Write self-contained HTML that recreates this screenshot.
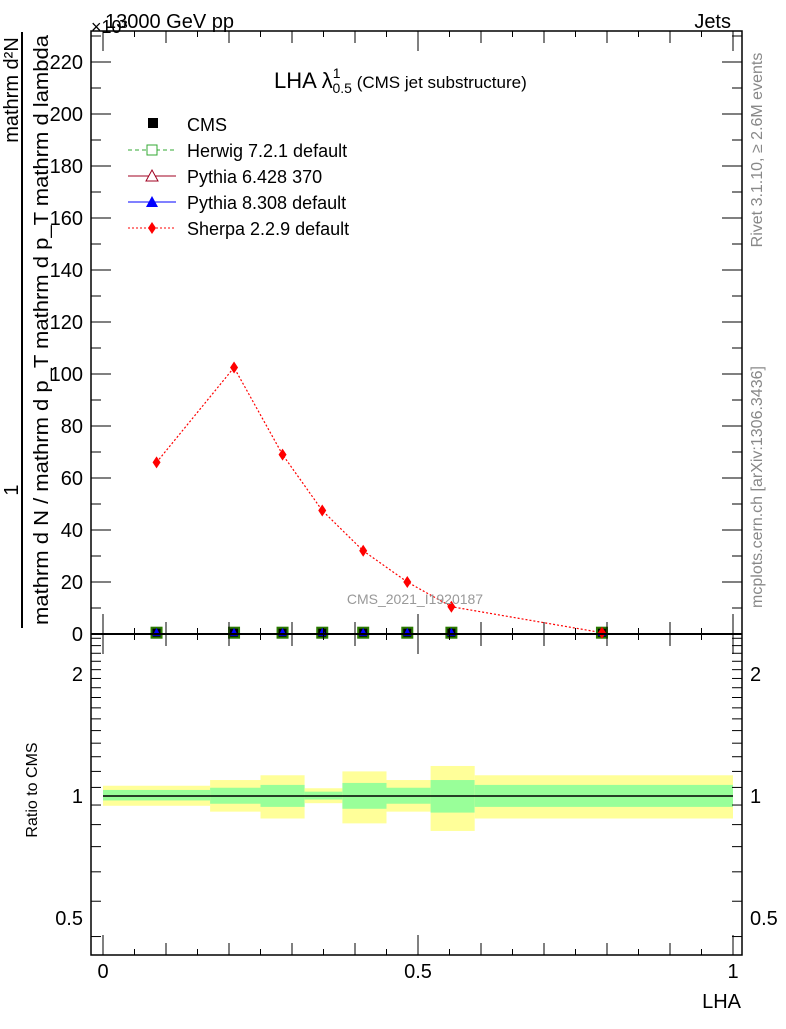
<!DOCTYPE html>
<html><head><meta charset="utf-8"><style>
body{margin:0;background:#fff;}
svg text{font-family:"Liberation Sans",sans-serif;}
</style></head><body>
<svg id="c" width="786" height="1024" viewBox="0 0 786 1024" xmlns="http://www.w3.org/2000/svg">
<g id="bands"></g>
<g id="mc"></g>
<g id="axes"></g>
<text x="105" y="28" font-size="20">13000 GeV pp</text>
<text x="91" y="33" font-size="18">×10³</text>
<text x="731" y="28" font-size="20" text-anchor="end">Jets</text>
<text x="274" y="88" font-size="22">LHA λ<tspan font-size="14" dy="-10">1</tspan><tspan font-size="14" dx="-8" dy="15">0.5</tspan><tspan font-size="17" dy="-5"> (CMS jet substructure)</tspan></text>
<text x="415" y="604" font-size="14" fill="#999" text-anchor="middle">CMS_2021_I1920187</text>
<text transform="translate(762,150) rotate(-90)" font-size="16" fill="#888" text-anchor="middle">Rivet 3.1.10, ≥ 2.6M events</text>
<text transform="translate(762,487) rotate(-90)" font-size="16" fill="#888" text-anchor="middle">mcplots.cern.ch [arXiv:1306.3436]</text>
<line x1="22" y1="32" x2="22" y2="628" stroke="#000" stroke-width="2"/>
<text transform="translate(18,490) rotate(-90)" font-size="20" text-anchor="middle">1</text>
<text transform="translate(18,90) rotate(-90)" font-size="20" text-anchor="middle">mathrm d²N</text>
<text transform="translate(48,330) rotate(-90)" font-size="20" text-anchor="middle" textLength="590" lengthAdjust="spacingAndGlyphs">mathrm d N / mathrm d p_T mathrm d p_T mathrm d lambda</text>
<text transform="translate(37,790) rotate(-90)" font-size="16" text-anchor="middle">Ratio to CMS</text>
<text x="741" y="1008" font-size="20" text-anchor="end">LHA</text>
<g>
<rect x="148" y="118" width="10" height="10" fill="#000"/>
<text x="187" y="131" font-size="18">CMS</text>
<line x1="128" y1="150" x2="176" y2="150" stroke="#3a3" stroke-dasharray="4,3"/><rect x="147" y="145" width="10" height="10" fill="#fff" stroke="#3a3"/>
<text x="187" y="157" font-size="18">Herwig 7.2.1 default</text>
<line x1="128" y1="176" x2="176" y2="176" stroke="#a00020"/><polygon points="152,170 158,181 146,181" fill="#fff" stroke="#a00020"/>
<text x="187" y="183" font-size="18">Pythia 6.428 370</text>
<line x1="128" y1="202" x2="176" y2="202" stroke="#00f"/><polygon points="152,196 158,207 146,207" fill="#00f"/>
<text x="187" y="209" font-size="18">Pythia 8.308 default</text>
<line x1="128" y1="228" x2="176" y2="228" stroke="#f00" stroke-dasharray="2,2"/><polygon points="152,222 156,228 152,234 148,228" fill="#f00"/>
<text x="187" y="235" font-size="18">Sherpa 2.2.9 default</text>
</g>
</svg>
<script>
const binEdges=[0,0.17,0.25,0.32,0.38,0.45,0.52,0.59,1.0];
const xPoints=[0.085,0.208,0.285,0.348,0.413,0.483,0.553,0.792];
const sherpaVals=[66,102.5,69,47.5,32,20,10.5,0.5];
const cmsVals=[0.5,0.5,0.5,0.5,0.5,0.5,0.5,0.5];
const yellowHi=[1.06,1.095,1.125,1.045,1.15,1.095,1.186,1.125];
const greenHi=[1.035,1.048,1.065,1.025,1.077,1.048,1.095,1.065];
const greenLo=[0.975,0.957,0.94,0.98,0.93,0.957,0.91,0.94];
const yellowLo=[0.946,0.915,0.88,0.96,0.856,0.915,0.82,0.88];
const mainTicks=[0,20,40,60,80,100,120,140,160,180,200,220];
const ratioTicks=[0.5,1,2];
const xTicks=[0,0.5,1];
const NS="http://www.w3.org/2000/svg";
const L=91,R=742,T=31,MB=634,RB=955;
const X=v=>103+v*630;
const Y=v=>634-v*2.6;
const YR=v=>796-Math.log2(v)*122;
function mk(tag,attrs,parent){const e=document.createElementNS(NS,tag);for(const k in attrs)e.setAttribute(k,attrs[k]);parent.appendChild(e);return e;}
const bands=document.getElementById('bands'),mc=document.getElementById('mc'),ax=document.getElementById('axes');
for(let i=0;i<binEdges.length-1;i++){
 const x0=X(binEdges[i]),x1=X(binEdges[i+1]);
 const y=mk('rect',{x:x0,y:YR(yellowHi[i]),width:x1-x0,height:YR(yellowLo[i])-YR(yellowHi[i]),fill:'#ffff99'},bands);
 
 
 const g=mk('rect',{x:x0,y:YR(greenHi[i]),width:x1-x0,height:YR(greenLo[i])-YR(greenHi[i]),fill:'#99ff99'},bands);
 
 
}
mk('line',{x1:X(0),x2:X(1),y1:YR(1),y2:YR(1),stroke:'#000','stroke-width':1.5},bands);
const pts=xPoints.map((x,i)=>X(x)+','+Y(sherpaVals[i])).join(' ');
const pl=mk('polyline',{points:pts,fill:'none',stroke:'#f00','stroke-dasharray':'2,2','stroke-width':1.2},mc);


xPoints.forEach((x,i)=>{
 const cx=X(x),cy=Y(cmsVals[i]);
 const c=mk('rect',{x:cx-6,y:cy-6,width:12,height:12,fill:'#2a7a00'},mc);
 
 
 mk('rect',{x:cx-4,y:cy-4,width:8,height:8,fill:'#000'},mc);
 mk('polygon',{points:`${cx},${cy-5} ${cx+4},${cy+3} ${cx-4},${cy+3}`,fill:'#00f'},mc);
 const sy=Y(sherpaVals[i]);
 const d=mk('polygon',{points:`${cx},${sy-6} ${cx+4},${sy} ${cx},${sy+6} ${cx-4},${sy}`,fill:'#f00'},mc);
 
 
});
mk('rect',{x:L,y:T,width:R-L,height:RB-T,fill:'none',stroke:'#000','stroke-width':1.5},ax);
mk('line',{x1:L,x2:R,y1:MB,y2:MB,stroke:'#000','stroke-width':2},ax);
for(let v=0;v<=230;v+=10){const y=Y(v);const len=v%20==0?20:10;
 mk('line',{x1:L,x2:L+len,y1:y,y2:y,stroke:'#000'},ax);mk('line',{x1:R-len,x2:R,y1:y,y2:y,stroke:'#000'},ax);}
mainTicks.forEach(v=>{const t=mk('text',{x:L-8,y:Y(v)+7,'font-size':20,'text-anchor':'end'},ax);t.textContent=v;
 
 });
for(let v=0.45;v<=2.5;v+=0.1){const y=YR(v);if(y<MB||y>RB)continue;const big=Math.abs(v-0.5)<0.01||Math.abs(v-1)<0.01||Math.abs(v-2)<0.01;const len=big?20:10;
 mk('line',{x1:L,x2:L+len,y1:y,y2:y,stroke:'#000'},ax);mk('line',{x1:R-len,x2:R,y1:y,y2:y,stroke:'#000'},ax);}
ratioTicks.forEach(v=>{const t=mk('text',{x:L-8,y:YR(v)+7,'font-size':20,'text-anchor':'end'},ax);t.textContent=v;
 
 
 const t2=mk('text',{x:R+8,y:YR(v)+7,'font-size':20},ax);t2.textContent=v;
 
 });
for(let v=0;v<=1.0001;v+=0.05){const x=X(v);const big=Math.abs((v*10)%1)<0.01||Math.abs((v*10)%1-1)<0.01;const len=Math.abs(v*2-Math.round(v*2))<0.01?20:(big?12:6);
 [T,MB,RB].forEach(b=>{mk('line',{x1:x,x2:x,y1:b===T?T:b-len,y2:b===T?T+len:b,stroke:'#000'},ax);});
 mk('line',{x1:x,x2:x,y1:MB,y2:MB+len,stroke:'#000'},ax);}
xTicks.forEach(v=>{const t=mk('text',{x:X(v),y:978,'font-size':20,'text-anchor':'middle'},ax);t.textContent=v;
 
 });
</script>
</body></html>
